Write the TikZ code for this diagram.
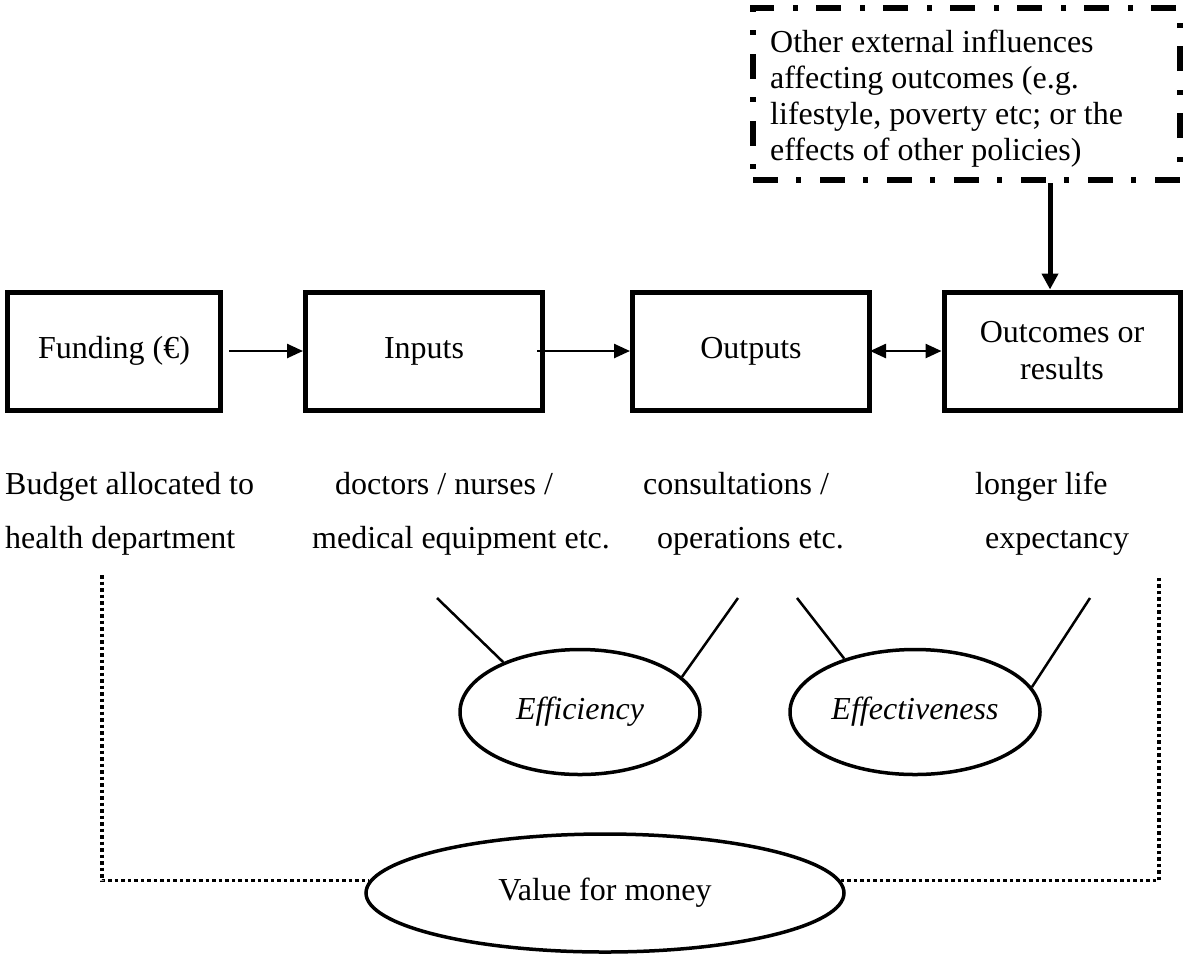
\documentclass[tikz,border=0pt]{standalone}
\usepackage{fontspec}
\setmainfont{Liberation Serif}
\usetikzlibrary{shapes.geometric,arrows.meta}
\begin{document}
\begin{tikzpicture}[x=1pt,y=-1pt,
  txt/.style={font=\fontsize{32}{37}\selectfont},
  box/.style={draw,line width=5pt,minimum height=118pt,align=center,inner sep=0pt,txt},
  ext/.style={draw,line width=6pt,dash pattern=on 25pt off 18pt on 5pt off 19pt,
    minimum width=427pt,minimum height=172pt,inner sep=0pt},
  exttext/.style={anchor=west,inner sep=0pt,align=left,font=\fontsize{32}{36}\selectfont},
  oval/.style={draw,ellipse,line width=3.5pt,inner sep=0pt,txt},
  lbl/.style={anchor=base west,inner sep=0pt,txt},
  arr/.style={line width=2.5pt,-{Triangle[length=16pt,width=14pt]}},
  darr/.style={line width=2.5pt,{Triangle[length=16pt,width=14pt]}-{Triangle[length=16pt,width=14pt]}},
  varr/.style={line width=5pt,-{Triangle[length=16pt,width=16pt]}},
  conn/.style={line width=2.5pt},
  dot/.style={line width=3.5pt,dash pattern=on 3.5pt off 3pt}]
\useasboundingbox (0,0) rectangle (1193,954);

% boxes
\node[box,minimum width=213pt] (fund) at (114,351) {Funding (€)};
\node[box,minimum width=237pt] (inp) at (424,351) {Inputs};
\node[box,minimum width=237pt] (outp) at (751,351) {Outputs};
\node[box,minimum width=236pt] (outc) at (1062,351) {Outcomes or\\results};

% external influences
\node[ext] (ext) at (966.5,94) {};
\node[exttext] (extt) at ([xshift=20pt,yshift=-5pt]ext.west) {Other external influences\\affecting outcomes (e.g.\\lifestyle, poverty etc; or the\\effects of other policies)};
\coordinate (tip) at ([xshift=-12pt]outc.north);
\draw[varr] (ext.south -| tip) -- (tip);

% arrows between boxes
\draw[arr,shorten <=6pt] (fund.east) -- (inp.west);
\draw[arr,shorten <=-8pt] (inp.east) -- (outp.west);
\draw[darr,shorten <=-2pt] (outp.east) -- (outc.west);

% labels
\node[lbl] (b1) at (5,494) {Budget allocated to};
\node[lbl] (b2) at (5,548) {health department};
\node[lbl] (i1) at (335,494) {doctors / nurses /};
\node[lbl] (i2) at (312,548) {medical equipment etc.};
\node[lbl] (o1) at (643,494) {consultations /};
\node[lbl] (o2) at (657,548) {operations etc.};
\node[lbl] (r1) at (975,494) {longer life};
\node[lbl] (r2) at (985,548) {expectancy};

% ellipses
\node[oval,minimum width=240pt,minimum height=125pt] (effi) at (580,712) {\itshape Efficiency};
\node[oval,minimum width=250pt,minimum height=125pt] (effe) at (915,712) {\itshape Effectiveness};
\node[oval,minimum width=478pt,minimum height=118pt] (vfm) at (605,893) {Value for money};

\coordinate (c1) at (437,598);
\coordinate (c2) at (738,598);
\coordinate (c3) at (797,598);
\coordinate (c4) at (1090,598);
\draw[conn] (c1) -- (effi.147);
\draw[conn] (c2) -- (effi.19);
\draw[conn] (c3) -- (effe.143);
\draw[conn] (c4) -- (effe.12);

% dotted value-for-money bracket
\coordinate (dl) at (102,575);
\coordinate (dr) at (1159,575);
\draw[dot] (dl) |- (vfm.177);
\draw[dot] (vfm.3) -| (dr);
\end{tikzpicture}
\end{document}
